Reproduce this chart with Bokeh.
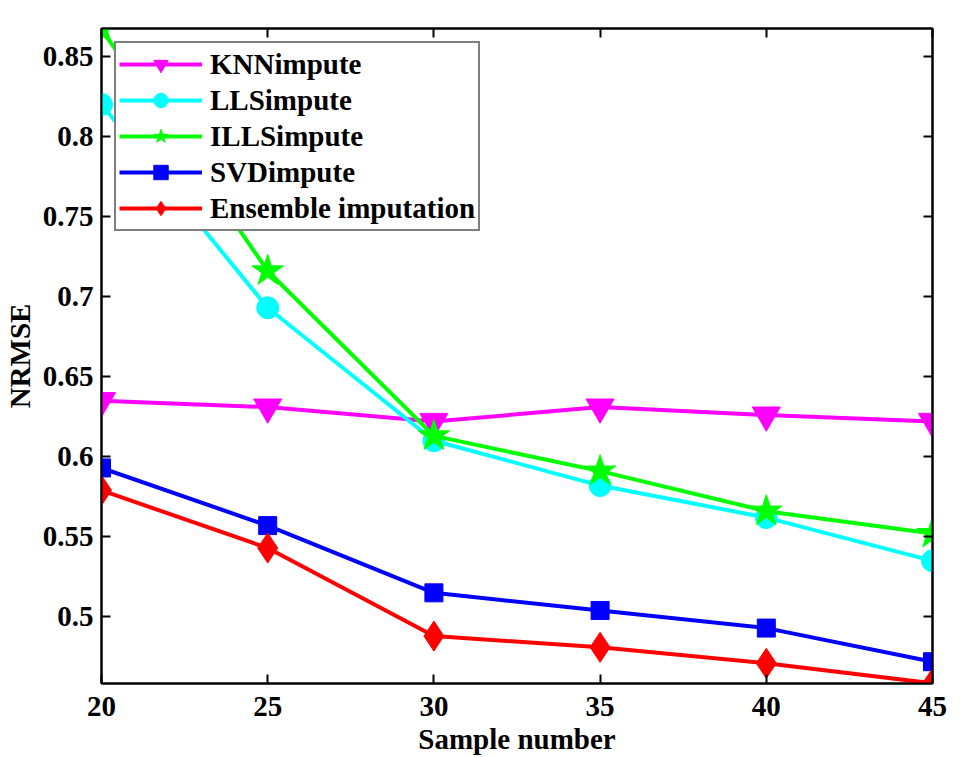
from bokeh.plotting import figure
from bokeh.models import Range1d, FixedTicker, LinearAxis, Legend, LegendItem
from bokeh.embed import file_html
from bokeh.resources import INLINE

# ---- data ----
sample_number = [20, 25, 30, 35, 40, 45]
knn_impute = [0.635, 0.631, 0.622, 0.631, 0.626, 0.622]
lls_impute = [0.820, 0.693, 0.610, 0.582, 0.562, 0.535]
ills_impute = [0.867, 0.716, 0.613, 0.591, 0.566, 0.552]
svd_impute = [0.593, 0.557, 0.515, 0.504, 0.493, 0.472]
ensemble_imputation = [0.579, 0.543, 0.488, 0.481, 0.471, 0.4585]

x_ticks = [20, 25, 30, 35, 40, 45]
y_ticks = [0.5, 0.55, 0.6, 0.65, 0.7, 0.75, 0.8, 0.85]
y_tick_labels = ["0.5", "0.55", "0.6", "0.65", "0.7", "0.75", "0.8", "0.85"]

series = [
    ("KNNimpute", knn_impute, "#ff00ff", "inverted_triangle", 28),
    ("LLSimpute", lls_impute, "#00ffff", "circle", 22),
    ("ILLSimpute", ills_impute, "#00ff00", "star", 33),
    ("SVDimpute", svd_impute, "#0000ff", "square", 18),
    ("Ensemble imputation", ensemble_imputation, "#ff0000", "diamond", 30),
]

FONT = "Liberation Serif"
FS = "29px"
FSTYLE = "bold"

p = figure(
    frame_width=831, frame_height=655,
    x_range=Range1d(20, 45), y_range=Range1d(0.4584, 0.8674),
    output_backend="svg", toolbar_location=None,
    min_border_left=92, min_border_top=28, min_border_right=22, min_border_bottom=10,
    background_fill_color="white", border_fill_color="white",
)
p.grid.visible = False
p.outline_line_color = "black"
p.outline_line_width = 2

items = []
for name, ys, color, marker, size in series:
    r1 = p.line(sample_number, ys, line_color=color, line_width=4)
    r2 = p.scatter(sample_number, ys, marker=marker, size=size,
                   fill_color=color, line_color=color)
    items.append(LegendItem(label=name, renderers=[r1, r2]))

def style_axis(ax):
    ax.axis_line_color = "black"
    ax.axis_line_width = 2
    ax.major_tick_in = 9
    ax.major_tick_out = 0
    ax.major_tick_line_width = 2
    ax.minor_tick_line_color = None
    ax.major_label_text_font = FONT
    ax.major_label_text_font_style = FSTYLE
    ax.major_label_text_font_size = FS
    ax.major_label_text_color = "black"

p.xaxis.ticker = FixedTicker(ticks=x_ticks)
p.yaxis.ticker = FixedTicker(ticks=y_ticks)
p.yaxis.major_label_overrides = {t: l for t, l in zip(y_ticks, y_tick_labels)}
for ax in p.xaxis + p.yaxis:
    style_axis(ax)
p.xaxis.major_label_standoff = 13
p.yaxis.major_label_standoff = 8

p.xaxis.axis_label = "Sample number"
p.yaxis.axis_label = "NRMSE"
for ax in p.xaxis + p.yaxis:
    ax.axis_label_text_font = FONT
    ax.axis_label_text_font_style = FSTYLE
    ax.axis_label_text_font_size = FS
    ax.axis_label_text_color = "black"
p.xaxis.axis_label_standoff = 4
p.yaxis.axis_label_standoff = 4

top_axis = LinearAxis(ticker=FixedTicker(ticks=x_ticks),
                      major_label_overrides={t: "" for t in x_ticks})
right_axis = LinearAxis(ticker=FixedTicker(ticks=y_ticks),
                        major_label_overrides={t: "" for t in y_ticks})
for ax in (top_axis, right_axis):
    style_axis(ax)
    ax.major_label_text_font_size = "8px"
    ax.major_label_standoff = 0
p.add_layout(top_axis, "above")
p.add_layout(right_axis, "right")

legend = Legend(items=items, location="top_left")
legend.margin = 13
legend.padding = 3
legend.border_line_color = "black"
legend.border_line_width = 2
legend.background_fill_color = "white"
legend.background_fill_alpha = 1.0
legend.glyph_width = 83
legend.glyph_height = 36
legend.label_height = 36
legend.spacing = 0
legend.label_standoff = 8
legend.label_text_font = FONT
legend.label_text_font_style = FSTYLE
legend.label_text_font_size = FS
legend.label_text_color = "black"
p.add_layout(legend, "center")

open("out.html", "w").write(file_html(p, INLINE))
